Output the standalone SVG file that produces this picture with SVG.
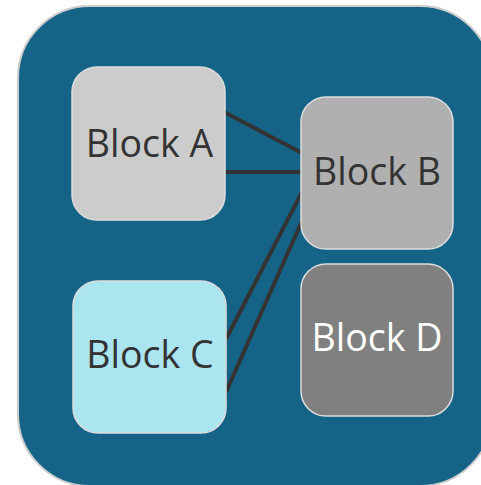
<svg xmlns="http://www.w3.org/2000/svg" width="481" height="485" viewBox="0 0 481 485">
<style>
.blk{stroke:#dddddd;stroke-width:1.5}
.lbl{font-family:"Open Sans","Noto Sans",sans-serif;font-size:37.5px;text-anchor:middle;fill:#333333}
.con{stroke:#333333;stroke-width:4;fill:none}
</style>
<rect x="18" y="6" width="474" height="480" rx="72" ry="72" fill="#156488" stroke="#cccccc" stroke-width="2"/>
<g id="connectors">
<line class="con" x1="224" y1="112" x2="302" y2="153"/>
<line class="con" x1="225" y1="172" x2="302" y2="172"/>
<line class="con" x1="302" y1="192" x2="226" y2="339"/>
<line class="con" x1="302" y1="221" x2="226" y2="392"/>
</g>
<g id="blockA">
<rect class="blk" x="72" y="67" width="153" height="153" rx="25" fill="#cccccc"/>
<text class="lbl" x="149.5" y="157">Block A</text>
</g>
<g id="blockB">
<rect class="blk" x="301" y="97" width="152" height="152" rx="25" fill="#b0b0b0"/>
<text class="lbl" x="377" y="185">Block B</text>
</g>
<g id="blockC">
<rect class="blk" x="73" y="281" width="153" height="152" rx="25" fill="#abe5ef"/>
<text class="lbl" x="150" y="368">Block C</text>
</g>
<g id="blockD">
<rect class="blk" x="301" y="264" width="152" height="152" rx="25" fill="#808080"/>
<text class="lbl" x="377" y="351" style="fill:#ffffff">Block D</text>
</g>
</svg>
